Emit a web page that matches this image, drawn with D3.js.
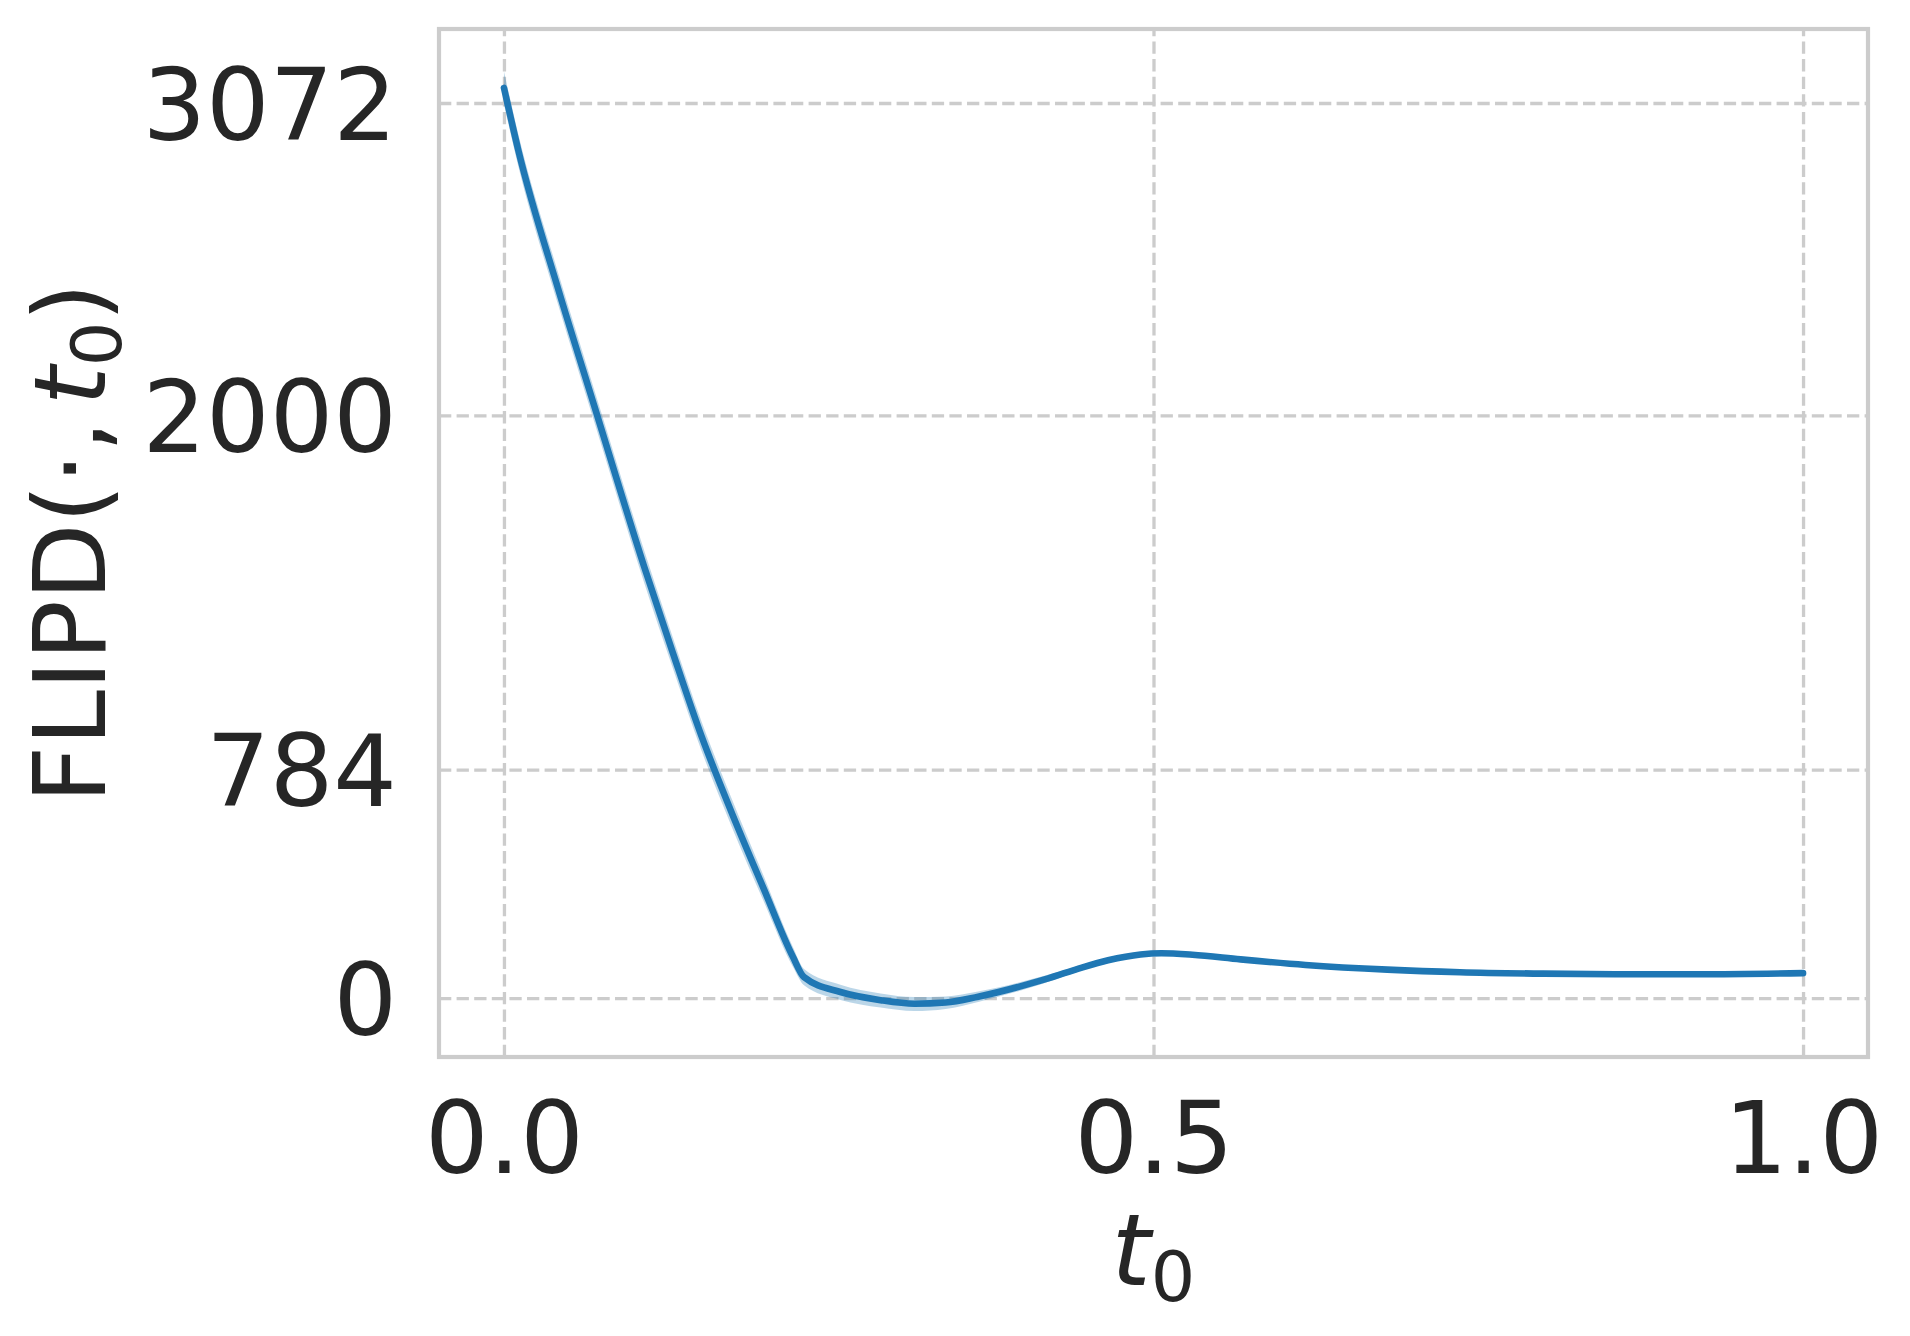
<!DOCTYPE html>
<html>
<head>
<meta charset="utf-8">
<script src="https://cdn.jsdelivr.net/npm/d3@7"></script>
<style>
  body { margin: 0; background: #fff; }
  text { font-family: "DejaVu Sans", sans-serif; fill: #262626; }
</style>
</head>
<body>
<div id="chart"></div>
<script>
// FLIPD curve vs t0, mean with a thin confidence band
var tVals = [0, 0.011, 0.042, 0.069, 0.108, 0.130, 0.152, 0.175, 0.200, 0.2225, 0.231, 0.259, 0.290, 0.316, 0.340, 0.365, 0.413, 0.440, 0.465, 0.490, 0.506, 0.530, 0.567, 0.617, 0.680, 0.736, 0.800, 0.855, 0.920, 1.0];
var meanVals = [3124, 2911, 2430, 2040, 1480, 1185, 900, 640, 375, 141, 72, 21, -7, -19, -15, 5, 60, 98, 130, 150, 154, 149, 133, 114, 98, 89, 84, 82, 82, 86];
var upperVals = [3180, 2966, 2485, 2095, 1535, 1238, 950, 688, 418, 175, 100, 46, 16, 4, 6, 23, 73, 108, 138, 158, 162, 157, 140, 120, 104, 95, 90, 88, 88, 92];
var lowerVals = [3068, 2856, 2375, 1985, 1425, 1132, 850, 592, 332, 107, 44, -6, -32, -44, -37, -13, 47, 88, 122, 142, 146, 141, 126, 108, 92, 83, 78, 76, 76, 80];

var xTicks = [0, 0.5, 1.0];
var xTickLabels = ["0.0", "0.5", "1.0"];
var yTicks = [0, 784, 2000, 3072];

var W = 1910, H = 1336;
// plot area edges (don't call it "top": that's window.top)
var pLeft = 439, pRight = 1868, pTop = 29, pBottom = 1057;
var gridColor = "#cccccc";

var svg = d3.select("#chart").append("svg")
	.attr("width", W)
	.attr("height", H);

var x = d3.scaleLinear().domain([-0.05, 1.05]).range([pLeft, pRight]);
var y = d3.scaleLinear().domain([-202, 3326]).range([pBottom, pTop]);

// y axis + horizontal grid
var yAxis = svg.append("g")
	.attr("transform", "translate(" + pLeft + ",0)")
	.call(d3.axisLeft(y).tickValues(yTicks).tickFormat(d3.format("d"))
		.tickSizeInner(-(pRight - pLeft)).tickSizeOuter(0).tickPadding(42));
// x axis + vertical grid
var xAxis = svg.append("g")
	.attr("transform", "translate(0," + pBottom + ")")
	.call(d3.axisBottom(x).tickValues(xTicks).tickFormat(function(d, i) { return xTickLabels[i]; })
		.tickSizeInner(-(pBottom - pTop)).tickSizeOuter(0).tickPadding(45));

[xAxis, yAxis].forEach(function(ax) {
	ax.select(".domain").remove();
	ax.selectAll(".tick line")
		.style("stroke", gridColor)
		.style("stroke-width", 3.3)
		.style("stroke-dasharray", "12.3,5.3");
	ax.selectAll(".tick text")
		.style("font-size", "100px")
		.style("fill", "#262626")
		.style("font-family", "DejaVu Sans");
});
yAxis.selectAll(".tick text").attr("dy", "0.36em");

var pts = tVals.map(function(t, i) {
	return { t: t, m: meanVals[i], lo: lowerVals[i], hi: upperVals[i] };
});

svg.append("path")
	.datum(pts)
	.attr("d", d3.area()
		.curve(d3.curveMonotoneX)
		.x(function(d) { return x(d.t); })
		.y0(function(d) { return y(d.lo); })
		.y1(function(d) { return y(d.hi); }))
	.style("fill", "#1f77b4")
	.style("opacity", 0.3)
	.style("stroke", "none");

svg.append("path")
	.datum(pts)
	.attr("d", d3.line()
		.curve(d3.curveMonotoneX)
		.x(function(d) { return x(d.t); })
		.y(function(d) { return y(d.m); }))
	.style("fill", "none")
	.style("stroke", "#1f77b4")
	.style("stroke-width", 6.6)
	.style("stroke-linejoin", "round")
	.style("stroke-linecap", "round");

// frame
svg.append("rect")
	.attr("x", pLeft).attr("y", pTop)
	.attr("width", pRight - pLeft).attr("height", pBottom - pTop)
	.style("fill", "none")
	.style("stroke", gridColor)
	.style("stroke-width", 4.2);

// x label t_0
var xl = svg.append("text")
	.attr("x", (pLeft + pRight) / 2)
	.attr("y", 1285)
	.style("font-size", "100px")
	.style("text-anchor", "middle");
xl.append("tspan").style("font-style", "italic").text("t");
xl.append("tspan").attr("dy", 16).style("font-size", "70px").text("0");

// y label FLIPD(·, t_0)
var yl = svg.append("text")
	.attr("transform", "translate(105," + (pTop + pBottom) / 2 + ") rotate(-90)")
	.style("font-size", "100px")
	.style("text-anchor", "middle");
yl.append("tspan").text("FLIPD(·,");
yl.append("tspan").attr("dx", 15).style("font-style", "italic").text("t");
yl.append("tspan").attr("dy", 16).style("font-size", "70px").text("0");
yl.append("tspan").attr("dy", -16).text(")");
</script>
</body>
</html>
